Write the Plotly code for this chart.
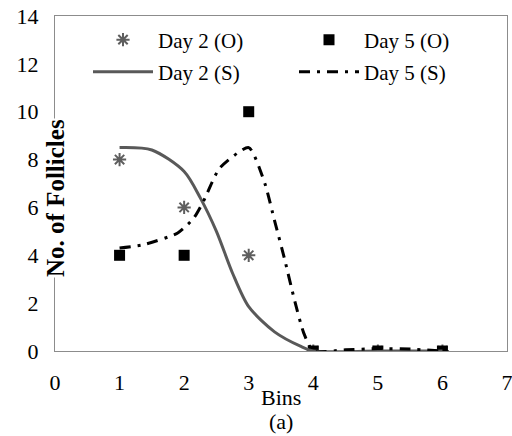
import plotly.graph_objects as go

bins = [1, 2, 3, 4, 5, 6]
day2_obs = [8, 6, 4, 0, 0, 0]
day5_obs = [4, 4, 10, 0, 0, 0]
# simulated curves
day2_sim_x = [1, 1.5, 2, 2.25, 2.5, 2.75, 3, 3.4, 3.8, 4, 5, 6]
day2_sim_y = [8.5, 8.4, 7.5, 6.4, 5.0, 3.25, 1.85, 0.8, 0.2, 0, 0, 0]
day5_sim_x = [1, 1.35, 1.9, 2.15, 2.3, 2.55, 3, 3.25, 3.4, 3.55, 3.7, 3.85, 4, 4.5, 5, 5.5, 6]
day5_sim_y = [4.3, 4.43, 4.93, 5.56, 6.26, 7.64, 8.5, 7.0, 5.45, 3.9, 2.23, 0.77, 0, 0.05, 0.1, 0.08, 0]
x_ticks = [0, 1, 2, 3, 4, 5, 6, 7]
y_ticks = [0, 2, 4, 6, 8, 10, 12, 14]

FONT = "Liberation Serif, Times New Roman, serif"
W, H = 512, 436
ML, MR, MT, MB = 55, 5, 16, 85
PW, PH = W - ML - MR, H - MT - MB

fig = go.Figure()
fig.add_trace(go.Scatter(x=bins, y=day2_obs, mode="markers", name="Day 2 (O)", legend="legend",
                         marker=dict(symbol="asterisk-open", size=11, color="#5e5e5e",
                                     line=dict(color="#5e5e5e", width=2))))
fig.add_trace(go.Scatter(x=bins, y=day5_obs, mode="markers", name="Day 5 (O)", legend="legend",
                         marker=dict(symbol="square", size=11, color="black")))
fig.add_trace(go.Scatter(x=day2_sim_x, y=day2_sim_y, mode="lines", name="Day 2 (S)", legend="legend2",
                         line=dict(color="#595959", width=3, shape="spline", smoothing=0.8)))
fig.add_trace(go.Scatter(x=day5_sim_x, y=day5_sim_y, mode="lines", name="Day 5 (S)", legend="legend2",
                         line=dict(color="black", width=3, shape="spline", smoothing=0.6,
                                   dash="11px,7px,3px,7px")))

leg_common = dict(orientation="h", xanchor="left", yanchor="middle",
                  entrywidth=131, itemwidth=60, font=dict(size=21, family=FONT),
                  bgcolor="rgba(0,0,0,0)", borderwidth=0)

fig.update_layout(
    width=W, height=H,
    margin=dict(l=ML, r=MR, t=MT, b=MB, autoexpand=False),
    plot_bgcolor="white", paper_bgcolor="white",
    font=dict(family=FONT, size=22, color="black"),
    showlegend=True,
    legend=dict(leg_common, x=(88 - ML) / PW, y=(351 - 40) / PH),
    legend2=dict(leg_common, x=(88 - ML) / PW, y=(351 - 72) / PH),
    xaxis=dict(range=[0, 7], tickvals=x_ticks, showgrid=False, zeroline=False,
               showline=True, mirror=True, linecolor="#8c8c8c", linewidth=1,
               ticks="", ticklabelstandoff=12, ticklabeloverflow="allow", automargin=False,
               tickfont=dict(size=22, family=FONT)),
    yaxis=dict(range=[0, 14], tickvals=y_ticks, showgrid=False, zeroline=False,
               showline=True, mirror=True, linecolor="#8c8c8c", linewidth=1, automargin=False,
               ticks="", ticklabelstandoff=11, tickfont=dict(size=22, family=FONT)),
    annotations=[
        dict(text="Bins", x=0.5, xref="paper", y=-(397 - 351) / PH, yref="paper",
             yanchor="middle", showarrow=False, font=dict(size=22, family=FONT)),
        dict(text="(a)", x=0.5, xref="paper", y=-(421 - 351) / PH, yref="paper",
             yanchor="middle", showarrow=False, font=dict(size=22, family=FONT)),
        dict(text="<b>No. of Follicles</b>", textangle=-90, x=0, xref="paper",
             y=(351 - 198) / PH, yref="paper", xanchor="center", yanchor="middle",
             showarrow=False, bgcolor="white", borderpad=0, font=dict(size=25, family=FONT)),
    ],
)

fig.write_html("out.html", config={"displayModeBar": False},
               post_script="document.body.style.margin='0';document.body.style.padding='0';")
